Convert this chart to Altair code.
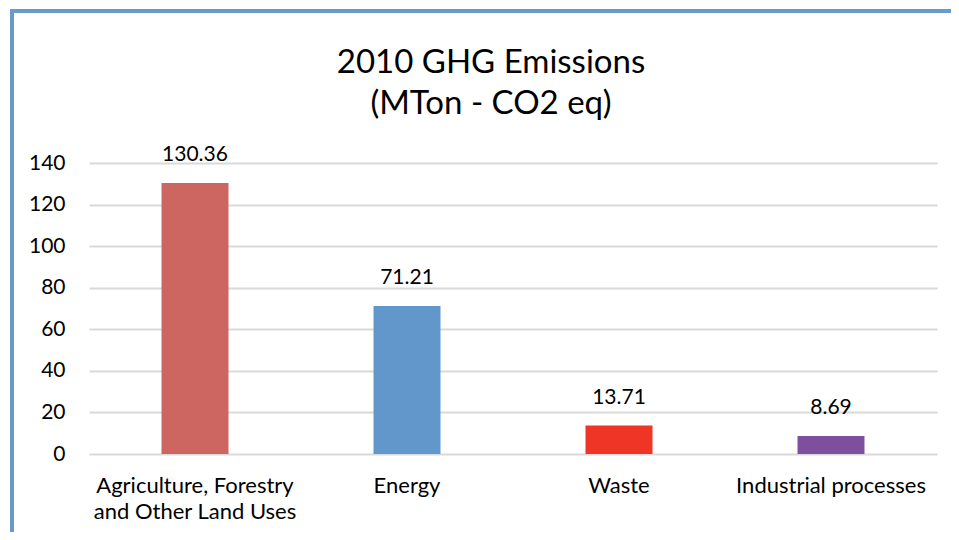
import altair as alt
import pandas as pd

categories = ["Agriculture, Forestry\nand Other Land Uses", "Energy", "Waste", "Industrial processes"]
values = [130.36, 71.21, 13.71, 8.69]
colors = ["#CD6660", "#6297CC", "#EE3526", "#7F4F9F"]
y_ticks = [0, 20, 40, 60, 80, 100, 120, 140]

df = pd.DataFrame({"cat": categories, "val": values, "color": colors,
                   "label": [f"{v:.2f}" for v in values]})

FONT = "Lato"
W, H = 848, 291

x = alt.X("cat:N", sort=categories,
          scale=alt.Scale(paddingInner=0.684, paddingOuter=0.342),
          axis=alt.Axis(title=None, labelAngle=0, labelExpr="split(datum.label, '\\n')",
                        labelFontSize=22, labelFont=FONT, labelColor="#000000",
                        labelPadding=21, labelLineHeight=26, ticks=False, domain=False,
                        labelBaseline="top", labelLimit=400))
y = alt.Y("val:Q", scale=alt.Scale(domain=[0, 140]),
          axis=alt.Axis(title=None, values=y_ticks, labelFontSize=21, labelFont=FONT,
                        labelColor="#000000", labelPadding=24, ticks=False, domain=False,
                        grid=True, gridColor="#D9D9D9", gridWidth=2))

bars = alt.Chart(df).mark_bar().encode(x=x, y=y, color=alt.Color("color:N", scale=None))
text = alt.Chart(df).mark_text(font=FONT, fontSize=21, color="#000000", dy=-28,
                               baseline="middle").encode(x=x, y=y, text="label:N")

border_top = alt.Chart(df).mark_rule(color="#6A9ACD", strokeWidth=4).encode(
    x=alt.value(-79), x2=alt.value(W + 40), y=alt.value(-152))
border_left = alt.Chart(df).mark_rule(color="#6A9ACD", strokeWidth=4).encode(
    x=alt.value(-77), y=alt.value(-154), y2=alt.value(H + 100))

chart = alt.layer(border_top, border_left, bars, text).properties(
    width=W, height=H,
    autosize=alt.AutoSizeParams(type="none"),
    padding={"left": 81, "top": 155, "right": 14, "bottom": 78},
    title=alt.TitleParams(["2010 GHG Emissions", "(MTon - CO2 eq)"], font=FONT,
                          fontSize=33, fontWeight="normal", color="#000000",
                          anchor="middle", dx=-22, offset=-114, lineHeight=41),
).configure_view(stroke=None)

chart.save("out.html", embed_options={"renderer": "svg", "actions": False})
